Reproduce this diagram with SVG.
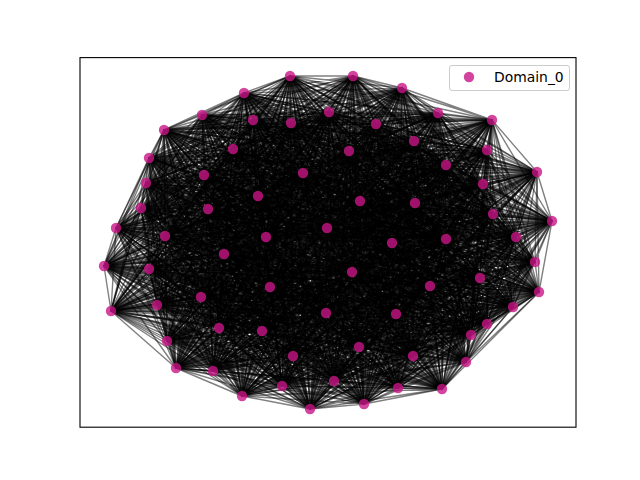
<svg xmlns="http://www.w3.org/2000/svg" width="640" height="480" viewBox="0 0 640 480">
<style>
.e{fill:none;stroke:#000;stroke-opacity:0.5;stroke-width:1.39;stroke-linejoin:round}
.n{fill:#c71585;fill-opacity:0.8}
.lt{font-family:"DejaVu Sans","Liberation Sans",sans-serif;font-size:13.9px;fill:#000}
</style>
<rect x="0" y="0" width="640" height="480" fill="#fff"/>
<g id="edges">
<polyline class="e" points="290,76 244,93 334,381 202,115 364,404 253,120 398,388 291,123 442,389 329,112 466,362 164,130 413,356 233,149 359,347 149,158 471,335 146,183 487,324 204,175 513,307 303,173 396,314 258,196 539,292 141,208 480,278 208,209 430,286 116,228 352,272 165,236 535,262 266,237 310,409 327,228 242,396 353,76 282,386 402,88 213,371 376,124 176,368 438,113 293,356 492,120 167,341 414,141 262,331 349,151 219,328 487,150 326,313 446,165 201,297 537,172 157,305 483,184 111,311 360,201 270,287 415,203 149,269 493,214 224,254 552,221 104,266 516,237 446,239 392,243"/>
<polyline class="e" points="244,93 202,115 290,76 253,120 334,381 291,123 364,404 329,112 398,388 164,130 442,389 233,149 466,362 149,158 413,356 146,183 359,347 204,175 471,335 303,173 487,324 258,196 513,307 141,208 396,314 208,209 539,292 116,228 480,278 165,236 430,286 266,237 352,272 327,228 535,262 353,76 310,409 402,88 242,396 376,124 282,386 438,113 213,371 492,120 176,368 414,141 293,356 349,151 167,341 487,150 262,331 446,165 219,328 537,172 326,313 483,184 201,297 360,201 157,305 415,203 111,311 493,214 270,287 552,221 149,269 516,237 224,254 392,243 104,266 446,239"/>
<polyline class="e" points="202,115 253,120 244,93 291,123 290,76 329,112 334,381 164,130 364,404 233,149 398,388 149,158 442,389 146,183 466,362 204,175 413,356 303,173 359,347 258,196 471,335 141,208 487,324 208,209 513,307 116,228 396,314 165,236 539,292 266,237 480,278 327,228 430,286 353,76 352,272 402,88 535,262 376,124 310,409 438,113 242,396 492,120 282,386 414,141 213,371 349,151 176,368 487,150 293,356 446,165 167,341 537,172 262,331 483,184 219,328 360,201 326,313 415,203 201,297 493,214 157,305 552,221 111,311 516,237 270,287 392,243 149,269 446,239 224,254 104,266"/>
<polyline class="e" points="253,120 291,123 202,115 329,112 244,93 164,130 290,76 233,149 334,381 149,158 364,404 146,183 398,388 204,175 442,389 303,173 466,362 258,196 413,356 141,208 359,347 208,209 471,335 116,228 487,324 165,236 513,307 266,237 396,314 327,228 539,292 353,76 480,278 402,88 430,286 376,124 352,272 438,113 535,262 492,120 310,409 414,141 242,396 349,151 282,386 487,150 213,371 446,165 176,368 537,172 293,356 483,184 167,341 360,201 262,331 415,203 219,328 493,214 326,313 552,221 201,297 516,237 157,305 392,243 111,311 446,239 270,287 104,266 149,269 224,254"/>
<polyline class="e" points="291,123 329,112 253,120 164,130 202,115 233,149 244,93 149,158 290,76 146,183 334,381 204,175 364,404 303,173 398,388 258,196 442,389 141,208 466,362 208,209 413,356 116,228 359,347 165,236 471,335 266,237 487,324 327,228 513,307 353,76 396,314 402,88 539,292 376,124 480,278 438,113 430,286 492,120 352,272 414,141 535,262 349,151 310,409 487,150 242,396 446,165 282,386 537,172 213,371 483,184 176,368 360,201 293,356 415,203 167,341 493,214 262,331 552,221 219,328 516,237 326,313 392,243 201,297 446,239 157,305 104,266 111,311 224,254 270,287 149,269"/>
<polyline class="e" points="329,112 164,130 291,123 233,149 253,120 149,158 202,115 146,183 244,93 204,175 290,76 303,173 334,381 258,196 364,404 141,208 398,388 208,209 442,389 116,228 466,362 165,236 413,356 266,237 359,347 327,228 471,335 353,76 487,324 402,88 513,307 376,124 396,314 438,113 539,292 492,120 480,278 414,141 430,286 349,151 352,272 487,150 535,262 446,165 310,409 537,172 242,396 483,184 282,386 360,201 213,371 415,203 176,368 493,214 293,356 552,221 167,341 516,237 262,331 392,243 219,328 446,239 326,313 104,266 201,297 224,254 157,305 149,269 111,311 270,287"/>
<polyline class="e" points="164,130 233,149 329,112 149,158 291,123 146,183 253,120 204,175 202,115 303,173 244,93 258,196 290,76 141,208 334,381 208,209 364,404 116,228 398,388 165,236 442,389 266,237 466,362 327,228 413,356 353,76 359,347 402,88 471,335 376,124 487,324 438,113 513,307 492,120 396,314 414,141 539,292 349,151 480,278 487,150 430,286 446,165 352,272 537,172 535,262 483,184 310,409 360,201 242,396 415,203 282,386 493,214 213,371 552,221 176,368 516,237 293,356 392,243 167,341 446,239 262,331 104,266 219,328 224,254 326,313 149,269 201,297 270,287 157,305 111,311"/>
<polyline class="e" points="233,149 149,158 164,130 146,183 329,112 204,175 291,123 303,173 253,120 258,196 202,115 141,208 244,93 208,209 290,76 116,228 334,381 165,236 364,404 266,237 398,388 327,228 442,389 353,76 466,362 402,88 413,356 376,124 359,347 438,113 471,335 492,120 487,324 414,141 513,307 349,151 396,314 487,150 539,292 446,165 480,278 537,172 430,286 483,184 352,272 360,201 535,262 415,203 310,409 493,214 242,396 552,221 282,386 516,237 213,371 392,243 176,368 446,239 293,356 104,266 167,341 224,254 262,331 149,269 219,328 270,287 326,313 111,311 201,297 157,305"/>
<polyline class="e" points="149,158 146,183 233,149 204,175 164,130 303,173 329,112 258,196 291,123 141,208 253,120 208,209 202,115 116,228 244,93 165,236 290,76 266,237 334,381 327,228 364,404 353,76 398,388 402,88 442,389 376,124 466,362 438,113 413,356 492,120 359,347 414,141 471,335 349,151 487,324 487,150 513,307 446,165 396,314 537,172 539,292 483,184 480,278 360,201 430,286 415,203 352,272 493,214 535,262 552,221 310,409 516,237 242,396 392,243 282,386 446,239 213,371 104,266 176,368 224,254 293,356 149,269 167,341 270,287 262,331 111,311 219,328 157,305 326,313 201,297"/>
<polyline class="e" points="146,183 204,175 149,158 303,173 233,149 258,196 164,130 141,208 329,112 208,209 291,123 116,228 253,120 165,236 202,115 266,237 244,93 327,228 290,76 353,76 334,381 402,88 364,404 376,124 398,388 438,113 442,389 492,120 466,362 414,141 413,356 349,151 359,347 487,150 471,335 446,165 487,324 537,172 513,307 483,184 396,314 360,201 539,292 415,203 480,278 493,214 430,286 552,221 352,272 516,237 535,262 392,243 310,409 446,239 242,396 104,266 282,386 224,254 213,371 149,269 176,368 270,287 293,356 111,311 167,341 157,305 262,331 201,297 219,328 326,313"/>
<polyline class="e" points="204,175 303,173 146,183 258,196 149,158 141,208 233,149 208,209 164,130 116,228 329,112 165,236 291,123 266,237 253,120 327,228 202,115 353,76 244,93 402,88 290,76 376,124 334,381 438,113 364,404 492,120 398,388 414,141 442,389 349,151 466,362 487,150 413,356 446,165 359,347 537,172 471,335 483,184 487,324 360,201 513,307 415,203 396,314 493,214 539,292 552,221 480,278 516,237 430,286 392,243 352,272 446,239 535,262 104,266 310,409 224,254 242,396 149,269 282,386 270,287 213,371 111,311 176,368 157,305 293,356 201,297 167,341 326,313 262,331 219,328"/>
<polyline class="e" points="303,173 258,196 204,175 141,208 146,183 208,209 149,158 116,228 233,149 165,236 164,130 266,237 329,112 327,228 291,123 353,76 253,120 402,88 202,115 376,124 244,93 438,113 290,76 492,120 334,381 414,141 364,404 349,151 398,388 487,150 442,389 446,165 466,362 537,172 413,356 483,184 359,347 360,201 471,335 415,203 487,324 493,214 513,307 552,221 396,314 516,237 539,292 392,243 480,278 446,239 430,286 104,266 352,272 224,254 535,262 149,269 310,409 270,287 242,396 111,311 282,386 157,305 213,371 201,297 176,368 326,313 293,356 219,328 167,341 262,331"/>
<polyline class="e" points="258,196 141,208 303,173 208,209 204,175 116,228 146,183 165,236 149,158 266,237 233,149 327,228 164,130 353,76 329,112 402,88 291,123 376,124 253,120 438,113 202,115 492,120 244,93 414,141 290,76 349,151 334,381 487,150 364,404 446,165 398,388 537,172 442,389 483,184 466,362 360,201 413,356 415,203 359,347 493,214 471,335 552,221 487,324 516,237 513,307 392,243 396,314 446,239 539,292 104,266 480,278 224,254 430,286 149,269 352,272 270,287 535,262 111,311 310,409 157,305 242,396 201,297 282,386 326,313 213,371 219,328 176,368 262,331 293,356 167,341"/>
<polyline class="e" points="141,208 208,209 258,196 116,228 303,173 165,236 204,175 266,237 146,183 327,228 149,158 353,76 233,149 402,88 164,130 376,124 329,112 438,113 291,123 492,120 253,120 414,141 202,115 349,151 244,93 487,150 290,76 446,165 334,381 537,172 364,404 483,184 398,388 360,201 442,389 415,203 466,362 493,214 413,356 552,221 359,347 516,237 471,335 392,243 487,324 446,239 513,307 104,266 396,314 224,254 539,292 149,269 480,278 270,287 430,286 111,311 352,272 157,305 535,262 201,297 310,409 326,313 242,396 219,328 282,386 262,331 213,371 167,341 176,368 293,356"/>
<polyline class="e" points="208,209 116,228 141,208 165,236 258,196 266,237 303,173 327,228 204,175 353,76 146,183 402,88 149,158 376,124 233,149 438,113 164,130 492,120 329,112 414,141 291,123 349,151 253,120 487,150 202,115 446,165 244,93 537,172 290,76 483,184 334,381 360,201 364,404 415,203 398,388 493,214 442,389 552,221 466,362 516,237 413,356 392,243 359,347 446,239 471,335 104,266 487,324 224,254 513,307 149,269 396,314 270,287 539,292 111,311 480,278 157,305 430,286 201,297 352,272 326,313 535,262 219,328 310,409 262,331 242,396 167,341 282,386 293,356 213,371 176,368"/>
<polyline class="e" points="116,228 165,236 208,209 266,237 141,208 327,228 258,196 353,76 303,173 402,88 204,175 376,124 146,183 438,113 149,158 492,120 233,149 414,141 164,130 349,151 329,112 487,150 291,123 446,165 253,120 537,172 202,115 483,184 244,93 360,201 290,76 415,203 334,381 493,214 364,404 552,221 398,388 516,237 442,389 392,243 466,362 446,239 413,356 104,266 359,347 224,254 471,335 149,269 487,324 270,287 513,307 111,311 396,314 157,305 539,292 201,297 480,278 326,313 430,286 219,328 352,272 262,331 535,262 167,341 310,409 293,356 242,396 176,368 282,386 213,371"/>
<polyline class="e" points="165,236 266,237 116,228 327,228 208,209 353,76 141,208 402,88 258,196 376,124 303,173 438,113 204,175 492,120 146,183 414,141 149,158 349,151 233,149 487,150 164,130 446,165 329,112 537,172 291,123 483,184 253,120 360,201 202,115 415,203 244,93 493,214 290,76 552,221 334,381 516,237 364,404 392,243 398,388 446,239 442,389 104,266 466,362 224,254 413,356 149,269 359,347 270,287 471,335 111,311 487,324 157,305 513,307 201,297 396,314 326,313 539,292 219,328 480,278 262,331 430,286 167,341 352,272 293,356 535,262 176,368 310,409 213,371 242,396 282,386"/>
<polyline class="e" points="266,237 327,228 165,236 353,76 116,228 402,88 208,209 376,124 141,208 438,113 258,196 492,120 303,173 414,141 204,175 349,151 146,183 487,150 149,158 446,165 233,149 537,172 164,130 483,184 329,112 360,201 291,123 415,203 253,120 493,214 202,115 552,221 244,93 516,237 290,76 392,243 334,381 446,239 364,404 104,266 398,388 224,254 442,389 149,269 466,362 270,287 413,356 111,311 359,347 157,305 471,335 201,297 487,324 326,313 513,307 219,328 396,314 262,331 539,292 167,341 480,278 293,356 430,286 176,368 352,272 213,371 535,262 282,386 310,409 242,396"/>
<polyline class="e" points="327,228 353,76 266,237 402,88 165,236 376,124 116,228 438,113 208,209 492,120 141,208 414,141 258,196 349,151 303,173 487,150 204,175 446,165 146,183 537,172 149,158 483,184 233,149 360,201 164,130 415,203 329,112 493,214 291,123 552,221 253,120 516,237 202,115 392,243 244,93 446,239 290,76 104,266 334,381 224,254 364,404 149,269 398,388 270,287 442,389 111,311 466,362 157,305 413,356 201,297 359,347 326,313 471,335 219,328 487,324 262,331 513,307 167,341 396,314 293,356 539,292 176,368 480,278 213,371 430,286 282,386 352,272 242,396 535,262 310,409"/>
<polyline class="e" points="353,76 402,88 327,228 376,124 266,237 438,113 165,236 492,120 116,228 414,141 208,209 349,151 141,208 487,150 258,196 446,165 303,173 537,172 204,175 483,184 146,183 360,201 149,158 415,203 233,149 493,214 164,130 552,221 329,112 516,237 291,123 392,243 253,120 446,239 202,115 104,266 244,93 224,254 290,76 149,269 334,381 270,287 364,404 111,311 398,388 157,305 442,389 201,297 466,362 326,313 413,356 219,328 359,347 262,331 471,335 167,341 487,324 293,356 513,307 176,368 396,314 213,371 539,292 282,386 480,278 242,396 430,286 310,409 352,272 535,262"/>
<polyline class="e" points="402,88 376,124 353,76 438,113 327,228 492,120 266,237 414,141 165,236 349,151 116,228 487,150 208,209 446,165 141,208 537,172 258,196 483,184 303,173 360,201 204,175 415,203 146,183 493,214 149,158 552,221 233,149 516,237 164,130 392,243 329,112 446,239 291,123 104,266 253,120 224,254 202,115 149,269 244,93 270,287 290,76 111,311 334,381 157,305 364,404 201,297 398,388 326,313 442,389 219,328 466,362 262,331 413,356 167,341 359,347 293,356 471,335 176,368 487,324 213,371 513,307 282,386 396,314 242,396 539,292 310,409 480,278 535,262 430,286 352,272"/>
<polyline class="e" points="376,124 438,113 402,88 492,120 353,76 414,141 327,228 349,151 266,237 487,150 165,236 446,165 116,228 537,172 208,209 483,184 141,208 360,201 258,196 415,203 303,173 493,214 204,175 552,221 146,183 516,237 149,158 392,243 233,149 446,239 164,130 104,266 329,112 224,254 291,123 149,269 253,120 270,287 202,115 111,311 244,93 157,305 290,76 201,297 334,381 326,313 364,404 219,328 398,388 262,331 442,389 167,341 466,362 293,356 413,356 176,368 359,347 213,371 471,335 282,386 487,324 242,396 513,307 310,409 396,314 535,262 539,292 352,272 480,278 430,286"/>
<polyline class="e" points="438,113 492,120 376,124 414,141 402,88 349,151 353,76 487,150 327,228 446,165 266,237 537,172 165,236 483,184 116,228 360,201 208,209 415,203 141,208 493,214 258,196 552,221 303,173 516,237 204,175 392,243 146,183 446,239 149,158 104,266 233,149 224,254 164,130 149,269 329,112 270,287 291,123 111,311 253,120 157,305 202,115 201,297 244,93 326,313 290,76 219,328 334,381 262,331 364,404 167,341 398,388 293,356 442,389 176,368 466,362 213,371 413,356 282,386 359,347 242,396 471,335 310,409 487,324 535,262 513,307 352,272 396,314 430,286 539,292 480,278"/>
<polyline class="e" points="492,120 414,141 438,113 349,151 376,124 487,150 402,88 446,165 353,76 537,172 327,228 483,184 266,237 360,201 165,236 415,203 116,228 493,214 208,209 552,221 141,208 516,237 258,196 392,243 303,173 446,239 204,175 104,266 146,183 224,254 149,158 149,269 233,149 270,287 164,130 111,311 329,112 157,305 291,123 201,297 253,120 326,313 202,115 219,328 244,93 262,331 290,76 167,341 334,381 293,356 364,404 176,368 398,388 213,371 442,389 282,386 466,362 242,396 413,356 310,409 359,347 535,262 471,335 352,272 487,324 430,286 513,307 480,278 396,314 539,292"/>
<polyline class="e" points="414,141 349,151 492,120 487,150 438,113 446,165 376,124 537,172 402,88 483,184 353,76 360,201 327,228 415,203 266,237 493,214 165,236 552,221 116,228 516,237 208,209 392,243 141,208 446,239 258,196 104,266 303,173 224,254 204,175 149,269 146,183 270,287 149,158 111,311 233,149 157,305 164,130 201,297 329,112 326,313 291,123 219,328 253,120 262,331 202,115 167,341 244,93 293,356 290,76 176,368 334,381 213,371 364,404 282,386 398,388 242,396 442,389 310,409 466,362 535,262 413,356 352,272 359,347 430,286 471,335 480,278 487,324 539,292 513,307 396,314"/>
<polyline class="e" points="349,151 487,150 414,141 446,165 492,120 537,172 438,113 483,184 376,124 360,201 402,88 415,203 353,76 493,214 327,228 552,221 266,237 516,237 165,236 392,243 116,228 446,239 208,209 104,266 141,208 224,254 258,196 149,269 303,173 270,287 204,175 111,311 146,183 157,305 149,158 201,297 233,149 326,313 164,130 219,328 329,112 262,331 291,123 167,341 253,120 293,356 202,115 176,368 244,93 213,371 290,76 282,386 334,381 242,396 364,404 310,409 398,388 535,262 442,389 352,272 466,362 430,286 413,356 480,278 359,347 539,292 471,335 396,314 487,324 513,307"/>
<polyline class="e" points="487,150 446,165 349,151 537,172 414,141 483,184 492,120 360,201 438,113 415,203 376,124 493,214 402,88 552,221 353,76 516,237 327,228 392,243 266,237 446,239 165,236 104,266 116,228 224,254 208,209 149,269 141,208 270,287 258,196 111,311 303,173 157,305 204,175 201,297 146,183 326,313 149,158 219,328 233,149 262,331 164,130 167,341 329,112 293,356 291,123 176,368 253,120 213,371 202,115 282,386 244,93 242,396 290,76 310,409 334,381 535,262 364,404 352,272 398,388 430,286 442,389 480,278 466,362 539,292 413,356 396,314 359,347 513,307 471,335 487,324"/>
<polyline class="e" points="446,165 537,172 487,150 483,184 349,151 360,201 414,141 415,203 492,120 493,214 438,113 552,221 376,124 516,237 402,88 392,243 353,76 446,239 327,228 104,266 266,237 224,254 165,236 149,269 116,228 270,287 208,209 111,311 141,208 157,305 258,196 201,297 303,173 326,313 204,175 219,328 146,183 262,331 149,158 167,341 233,149 293,356 164,130 176,368 329,112 213,371 291,123 282,386 253,120 242,396 202,115 310,409 244,93 535,262 290,76 352,272 334,381 430,286 364,404 480,278 398,388 539,292 442,389 396,314 466,362 513,307 413,356 487,324 359,347 471,335"/>
<polyline class="e" points="537,172 483,184 446,165 360,201 487,150 415,203 349,151 493,214 414,141 552,221 492,120 516,237 438,113 392,243 376,124 446,239 402,88 104,266 353,76 224,254 327,228 149,269 266,237 270,287 165,236 111,311 116,228 157,305 208,209 201,297 141,208 326,313 258,196 219,328 303,173 262,331 204,175 167,341 146,183 293,356 149,158 176,368 233,149 213,371 164,130 282,386 329,112 242,396 291,123 310,409 253,120 535,262 202,115 352,272 244,93 430,286 290,76 480,278 334,381 539,292 364,404 396,314 398,388 513,307 442,389 487,324 466,362 471,335 413,356 359,347"/>
<polyline class="e" points="483,184 360,201 537,172 415,203 446,165 493,214 487,150 552,221 349,151 516,237 414,141 392,243 492,120 446,239 438,113 104,266 376,124 224,254 402,88 149,269 353,76 270,287 327,228 111,311 266,237 157,305 165,236 201,297 116,228 326,313 208,209 219,328 141,208 262,331 258,196 167,341 303,173 293,356 204,175 176,368 146,183 213,371 149,158 282,386 233,149 242,396 164,130 310,409 329,112 535,262 291,123 352,272 253,120 430,286 202,115 480,278 244,93 539,292 290,76 396,314 334,381 513,307 364,404 487,324 398,388 471,335 442,389 359,347 466,362 413,356"/>
<polyline class="e" points="360,201 415,203 483,184 493,214 537,172 552,221 446,165 516,237 487,150 392,243 349,151 446,239 414,141 104,266 492,120 224,254 438,113 149,269 376,124 270,287 402,88 111,311 353,76 157,305 327,228 201,297 266,237 326,313 165,236 219,328 116,228 262,331 208,209 167,341 141,208 293,356 258,196 176,368 303,173 213,371 204,175 282,386 146,183 242,396 149,158 310,409 233,149 535,262 164,130 352,272 329,112 430,286 291,123 480,278 253,120 539,292 202,115 396,314 244,93 513,307 290,76 487,324 334,381 471,335 364,404 359,347 398,388 413,356 442,389 466,362"/>
<polyline class="e" points="415,203 493,214 360,201 552,221 483,184 516,237 537,172 392,243 446,165 446,239 487,150 104,266 349,151 224,254 414,141 149,269 492,120 270,287 438,113 111,311 376,124 157,305 402,88 201,297 353,76 326,313 327,228 219,328 266,237 262,331 165,236 167,341 116,228 293,356 208,209 176,368 141,208 213,371 258,196 282,386 303,173 242,396 204,175 310,409 146,183 535,262 149,158 352,272 233,149 430,286 164,130 480,278 329,112 539,292 291,123 396,314 253,120 513,307 202,115 487,324 244,93 471,335 290,76 359,347 334,381 413,356 364,404 466,362 398,388 442,389"/>
<polyline class="e" points="493,214 552,221 415,203 516,237 360,201 392,243 483,184 446,239 537,172 104,266 446,165 224,254 487,150 149,269 349,151 270,287 414,141 111,311 492,120 157,305 438,113 201,297 376,124 326,313 402,88 219,328 353,76 262,331 327,228 167,341 266,237 293,356 165,236 176,368 116,228 213,371 208,209 282,386 141,208 242,396 258,196 310,409 303,173 535,262 204,175 352,272 146,183 430,286 149,158 480,278 233,149 539,292 164,130 396,314 329,112 513,307 291,123 487,324 253,120 471,335 202,115 359,347 244,93 413,356 290,76 466,362 334,381 442,389 364,404 398,388"/>
<polyline class="e" points="552,221 516,237 493,214 392,243 415,203 446,239 360,201 104,266 483,184 224,254 537,172 149,269 446,165 270,287 487,150 111,311 349,151 157,305 414,141 201,297 492,120 326,313 438,113 219,328 376,124 262,331 402,88 167,341 353,76 293,356 327,228 176,368 266,237 213,371 165,236 282,386 116,228 242,396 208,209 310,409 141,208 535,262 258,196 352,272 303,173 430,286 204,175 480,278 146,183 539,292 149,158 396,314 233,149 513,307 164,130 487,324 329,112 471,335 291,123 359,347 253,120 413,356 202,115 466,362 244,93 442,389 290,76 398,388 334,381 364,404"/>
<polyline class="e" points="516,237 392,243 552,221 446,239 493,214 104,266 415,203 224,254 360,201 149,269 483,184 270,287 537,172 111,311 446,165 157,305 487,150 201,297 349,151 326,313 414,141 219,328 492,120 262,331 438,113 167,341 376,124 293,356 402,88 176,368 353,76 213,371 327,228 282,386 266,237 242,396 165,236 310,409 116,228 535,262 208,209 352,272 141,208 430,286 258,196 480,278 303,173 539,292 204,175 396,314 146,183 513,307 149,158 487,324 233,149 471,335 164,130 359,347 329,112 413,356 291,123 466,362 253,120 442,389 202,115 398,388 244,93 364,404 290,76 334,381"/>
</g>
<g id="nodes">
<g id="n0"><circle class="n" cx="290" cy="76" r="5.2"/></g>
<g id="n1"><circle class="n" cx="244" cy="93" r="5.2"/></g>
<g id="n2"><circle class="n" cx="202" cy="115" r="5.2"/></g>
<g id="n3"><circle class="n" cx="253" cy="120" r="5.2"/></g>
<g id="n4"><circle class="n" cx="291" cy="123" r="5.2"/></g>
<g id="n5"><circle class="n" cx="329" cy="112" r="5.2"/></g>
<g id="n6"><circle class="n" cx="164" cy="130" r="5.2"/></g>
<g id="n7"><circle class="n" cx="233" cy="149" r="5.2"/></g>
<g id="n8"><circle class="n" cx="149" cy="158" r="5.2"/></g>
<g id="n9"><circle class="n" cx="146" cy="183" r="5.2"/></g>
<g id="n10"><circle class="n" cx="204" cy="175" r="5.2"/></g>
<g id="n11"><circle class="n" cx="303" cy="173" r="5.2"/></g>
<g id="n12"><circle class="n" cx="258" cy="196" r="5.2"/></g>
<g id="n13"><circle class="n" cx="141" cy="208" r="5.2"/></g>
<g id="n14"><circle class="n" cx="208" cy="209" r="5.2"/></g>
<g id="n15"><circle class="n" cx="116" cy="228" r="5.2"/></g>
<g id="n16"><circle class="n" cx="165" cy="236" r="5.2"/></g>
<g id="n17"><circle class="n" cx="266" cy="237" r="5.2"/></g>
<g id="n18"><circle class="n" cx="327" cy="228" r="5.2"/></g>
<g id="n19"><circle class="n" cx="353" cy="76" r="5.2"/></g>
<g id="n20"><circle class="n" cx="402" cy="88" r="5.2"/></g>
<g id="n21"><circle class="n" cx="376" cy="124" r="5.2"/></g>
<g id="n22"><circle class="n" cx="438" cy="113" r="5.2"/></g>
<g id="n23"><circle class="n" cx="492" cy="120" r="5.2"/></g>
<g id="n24"><circle class="n" cx="414" cy="141" r="5.2"/></g>
<g id="n25"><circle class="n" cx="349" cy="151" r="5.2"/></g>
<g id="n26"><circle class="n" cx="487" cy="150" r="5.2"/></g>
<g id="n27"><circle class="n" cx="446" cy="165" r="5.2"/></g>
<g id="n28"><circle class="n" cx="537" cy="172" r="5.2"/></g>
<g id="n29"><circle class="n" cx="483" cy="184" r="5.2"/></g>
<g id="n30"><circle class="n" cx="360" cy="201" r="5.2"/></g>
<g id="n31"><circle class="n" cx="415" cy="203" r="5.2"/></g>
<g id="n32"><circle class="n" cx="493" cy="214" r="5.2"/></g>
<g id="n33"><circle class="n" cx="552" cy="221" r="5.2"/></g>
<g id="n34"><circle class="n" cx="516" cy="237" r="5.2"/></g>
<g id="n35"><circle class="n" cx="392" cy="243" r="5.2"/></g>
<g id="n36"><circle class="n" cx="446" cy="239" r="5.2"/></g>
<g id="n37"><circle class="n" cx="104" cy="266" r="5.2"/></g>
<g id="n38"><circle class="n" cx="224" cy="254" r="5.2"/></g>
<g id="n39"><circle class="n" cx="149" cy="269" r="5.2"/></g>
<g id="n40"><circle class="n" cx="270" cy="287" r="5.2"/></g>
<g id="n41"><circle class="n" cx="111" cy="311" r="5.2"/></g>
<g id="n42"><circle class="n" cx="157" cy="305" r="5.2"/></g>
<g id="n43"><circle class="n" cx="201" cy="297" r="5.2"/></g>
<g id="n44"><circle class="n" cx="326" cy="313" r="5.2"/></g>
<g id="n45"><circle class="n" cx="219" cy="328" r="5.2"/></g>
<g id="n46"><circle class="n" cx="262" cy="331" r="5.2"/></g>
<g id="n47"><circle class="n" cx="167" cy="341" r="5.2"/></g>
<g id="n48"><circle class="n" cx="293" cy="356" r="5.2"/></g>
<g id="n49"><circle class="n" cx="176" cy="368" r="5.2"/></g>
<g id="n50"><circle class="n" cx="213" cy="371" r="5.2"/></g>
<g id="n51"><circle class="n" cx="282" cy="386" r="5.2"/></g>
<g id="n52"><circle class="n" cx="242" cy="396" r="5.2"/></g>
<g id="n53"><circle class="n" cx="310" cy="409" r="5.2"/></g>
<g id="n54"><circle class="n" cx="535" cy="262" r="5.2"/></g>
<g id="n55"><circle class="n" cx="352" cy="272" r="5.2"/></g>
<g id="n56"><circle class="n" cx="430" cy="286" r="5.2"/></g>
<g id="n57"><circle class="n" cx="480" cy="278" r="5.2"/></g>
<g id="n58"><circle class="n" cx="539" cy="292" r="5.2"/></g>
<g id="n59"><circle class="n" cx="396" cy="314" r="5.2"/></g>
<g id="n60"><circle class="n" cx="513" cy="307" r="5.2"/></g>
<g id="n61"><circle class="n" cx="487" cy="324" r="5.2"/></g>
<g id="n62"><circle class="n" cx="471" cy="335" r="5.2"/></g>
<g id="n63"><circle class="n" cx="359" cy="347" r="5.2"/></g>
<g id="n64"><circle class="n" cx="413" cy="356" r="5.2"/></g>
<g id="n65"><circle class="n" cx="466" cy="362" r="5.2"/></g>
<g id="n66"><circle class="n" cx="442" cy="389" r="5.2"/></g>
<g id="n67"><circle class="n" cx="398" cy="388" r="5.2"/></g>
<g id="n68"><circle class="n" cx="364" cy="404" r="5.2"/></g>
<g id="n69"><circle class="n" cx="334" cy="381" r="5.2"/></g>
</g>
<rect x="80" y="57.6" width="496" height="369.6" fill="none" stroke="#000" stroke-width="1.1"/>
<g id="legend">
<rect x="449.5" y="65.5" width="120" height="25" rx="2.5" fill="#fff" fill-opacity="0.8" stroke="#ccc" stroke-width="1"/>
<circle class="n" cx="469" cy="77" r="5.2"/>
<text class="lt" x="494" y="82">Domain_0</text>
</g>
</svg>
